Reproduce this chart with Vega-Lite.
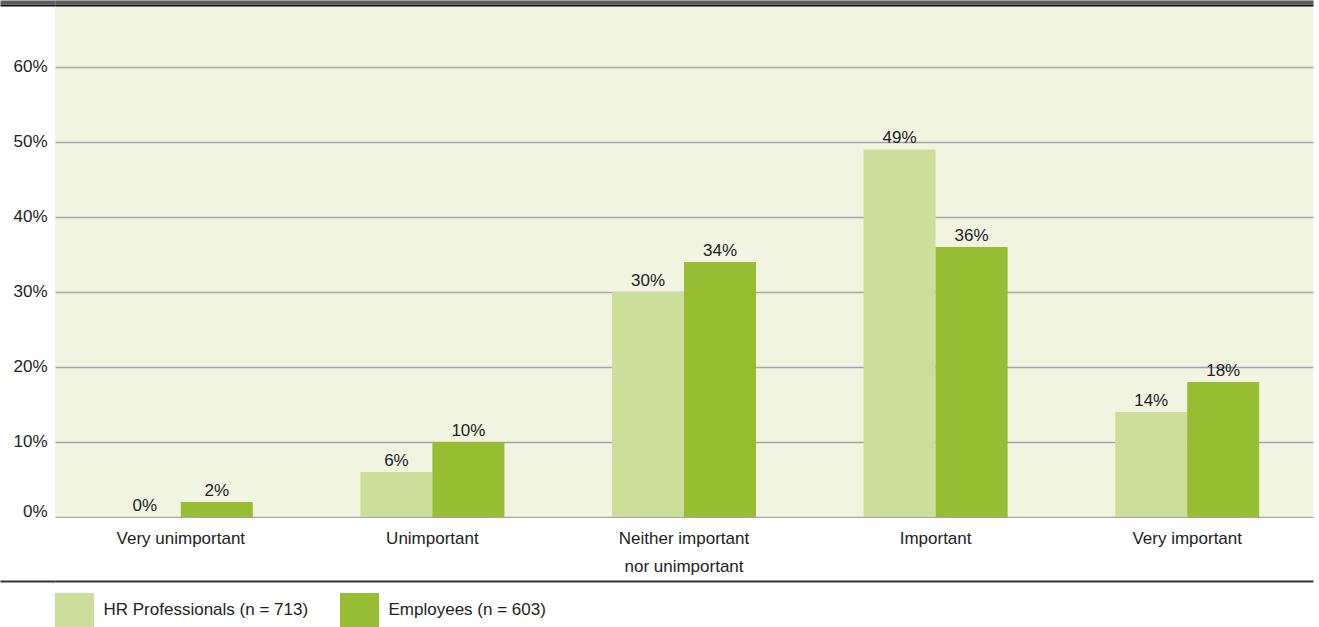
{
  "$schema": "https://vega.github.io/schema/vega-lite/v6.json",
  "width": 1258,
  "height": 582,
  "autosize": "none",
  "padding": {"left": 55, "top": 0, "right": 6, "bottom": 45},
  "background": "white",
  "config": {
    "view": {"stroke": null, "fill": "#f0f4e1"},
    "font": "Liberation Sans",
    "text": {"font": "Liberation Sans"}
  },
  "data": {
    "values": [
      {"cat": "Very unimportant", "group": "HR Professionals (n = 713)", "value": 0.0},
      {"cat": "Very unimportant", "group": "Employees (n = 603)", "value": 0.02},
      {"cat": "Unimportant", "group": "HR Professionals (n = 713)", "value": 0.06},
      {"cat": "Unimportant", "group": "Employees (n = 603)", "value": 0.10},
      {"cat": "Neither important nor unimportant", "group": "HR Professionals (n = 713)", "value": 0.30},
      {"cat": "Neither important nor unimportant", "group": "Employees (n = 603)", "value": 0.34},
      {"cat": "Important", "group": "HR Professionals (n = 713)", "value": 0.49},
      {"cat": "Important", "group": "Employees (n = 603)", "value": 0.36},
      {"cat": "Very important", "group": "HR Professionals (n = 713)", "value": 0.14},
      {"cat": "Very important", "group": "Employees (n = 603)", "value": 0.18}
    ]
  },
  "layer": [
    {
      "mark": {"type": "bar"},
      "encoding": {
        "x": {
          "field": "cat",
          "type": "nominal",
          "sort": null,
          "scale": {"paddingInner": 0.4277, "paddingOuter": 0.2139},
          "axis": {
            "orient": "bottom",
            "offset": -65,
            "title": null,
            "ticks": false,
            "domain": false,
            "labelAngle": 0,
            "labelFontSize": 17,
            "labelColor": "#222222",
            "labelPadding": 13,
            "labelLineHeight": 28,
            "labelLimit": 300,
            "zindex": 1,
            "labelExpr": "datum.label == 'Neither important nor unimportant' ? ['Neither important', 'nor unimportant'] : datum.label"
          }
        },
        "xOffset": {
          "field": "group",
          "type": "nominal",
          "sort": null,
          "scale": {"paddingInner": 0, "paddingOuter": 0}
        },
        "y": {
          "field": "value",
          "type": "quantitative",
          "scale": {"domain": [-0.0867, 0.6893], "nice": false, "zero": false},
          "axis": {
            "title": null,
            "values": [0, 0.1, 0.2, 0.3, 0.4, 0.5, 0.6, 0.68663, 0.68263, -0.08537],
            "tickCount": 30,
            "domain": false,
            "grid": true,
            "labelOverlap": false,
            "tickSize": 55,
            "labelPadding": -47,
            "labelAlign": "right",
            "labelFontSize": 17,
            "labelColor": "#222222",
            "labelExpr": "datum.value >= -0.001 && datum.value <= 0.65 ? format(datum.value, '.0%') : ''",
            "labelBaseline": {"condition": {"test": "datum.value == 0", "value": "alphabetic"}, "value": "middle"},
            "gridColor": {"condition": [
              {"test": "datum.value > 0.684", "value": "#5a5a5a"},
              {"test": "datum.value > 0.65", "value": "#111111"},
              {"test": "datum.value < -0.01", "value": "#333333"}
            ], "value": "#a5a5a5"},
            "gridWidth": {"condition": [
              {"test": "datum.value > 0.684", "value": 4},
              {"test": "datum.value > 0.65", "value": 2.2},
              {"test": "datum.value < -0.01", "value": 2}
            ], "value": 1.3},
            "tickColor": {"condition": [
              {"test": "datum.value > 0.684", "value": "#5a5a5a"},
              {"test": "datum.value > 0.65", "value": "#111111"},
              {"test": "datum.value < -0.01", "value": "#333333"}
            ], "value": "rgba(0,0,0,0)"},
            "tickWidth": {"condition": [
              {"test": "datum.value > 0.684", "value": 4},
              {"test": "datum.value > 0.65", "value": 2.2},
              {"test": "datum.value < -0.01", "value": 2}
            ], "value": 1}
          }
        },
        "color": {
          "field": "group",
          "type": "nominal",
          "sort": null,
          "scale": {
            "domain": ["HR Professionals (n = 713)", "Employees (n = 603)"],
            "range": ["#cbdf9b", "#97bd33"]
          },
          "legend": {
            "orient": "none",
            "legendX": 2.5,
            "legendY": 593,
            "direction": "horizontal",
            "title": null,
            "padding": 0,
            "symbolType": "M-1.147,-1H1.147V1H-1.147Z",
            "symbolSize": 1156,
            "symbolStrokeWidth": 0,
            "symbolOpacity": 1,
            "labelFontSize": 17,
            "labelColor": "#222222",
            "labelOffset": 12,
            "columnPadding": 31,
            "labelLimit": 400
          }
        }
      }
    },
    {
      "mark": {"type": "text", "baseline": "alphabetic", "dy": -6, "fontSize": 17, "color": "#222222"},
      "encoding": {
        "x": {"field": "cat", "type": "nominal", "sort": null},
        "xOffset": {"field": "group", "type": "nominal", "sort": null},
        "y": {"field": "value", "type": "quantitative"},
        "text": {"field": "value", "type": "quantitative", "format": ".0%"}
      }
    },
    {
      "data": {"values": [{}]},
      "mark": {"type": "rect", "color": "white"},
      "encoding": {
        "y": {"datum": -0.0015, "type": "quantitative"},
        "y2": {"datum": -0.084}
      }
    }
  ]
}
